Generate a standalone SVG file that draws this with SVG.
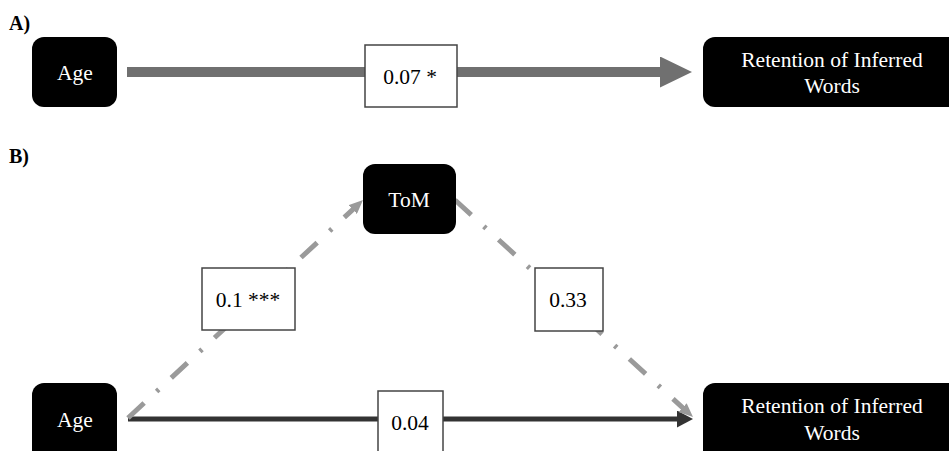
<svg xmlns="http://www.w3.org/2000/svg" width="949" height="451" viewBox="0 0 949 451">
<style>
text{font-family:'Liberation Serif','DejaVu Serif','Noto Serif',serif}
.node{fill:#000}
.ntext{fill:#fff;font-size:21.5px;text-anchor:middle}
.lbl{fill:#fff;stroke:#444;stroke-width:1.5}
.ltext{fill:#000;font-size:21.5px;text-anchor:middle}
.panel{fill:#000;font-size:20px;font-weight:bold}
.dash{fill:none;stroke:#9a9a9a;stroke-width:5;stroke-dasharray:22 17 3 17}
</style>
<defs>
<marker id="headA" markerUnits="userSpaceOnUse" markerWidth="32" markerHeight="31" refX="4" refY="15.5" orient="auto"><path d="M0,0 L32,15.5 L0,31 z" fill="#707070"/></marker>
<marker id="headDark" markerUnits="userSpaceOnUse" markerWidth="16" markerHeight="17" refX="2" refY="8.5" orient="auto"><path d="M0,0 L16,8.5 L0,17 z" fill="#333"/></marker>
<marker id="headGray" markerUnits="userSpaceOnUse" markerWidth="14" markerHeight="12" refX="4" refY="6" orient="auto"><path d="M0,0 L14,6 L0,12 z" fill="#9a9a9a"/></marker>
</defs>
<rect width="949" height="451" fill="#fff"/>
<text class="panel" x="9" y="30">A)</text>
<text class="panel" x="9" y="163">B)</text>
<g id="connectors">
<line x1="127" y1="72" x2="664" y2="72" stroke="#707070" stroke-width="10" marker-end="url(#headA)"/>
<line x1="128" y1="419" x2="679" y2="419" stroke="#333" stroke-width="5" marker-end="url(#headDark)"/>
<line class="dash" x1="128" y1="418" x2="355.7" y2="206.8" marker-end="url(#headGray)"/>
<line class="dash" x1="455" y1="200" x2="685.6" y2="410.3" marker-end="url(#headGray)"/>
</g>
<g id="label-a"><rect class="lbl" x="365" y="45" width="92" height="62"/><text class="ltext" x="410" y="84">0.07 *</text></g>
<g id="label-b1"><rect class="lbl" x="202" y="268" width="93" height="62"/><text class="ltext" x="248" y="307">0.1 ***</text></g>
<g id="label-b2"><rect class="lbl" x="535" y="268" width="68" height="63"/><text class="ltext" x="568" y="307">0.33</text></g>
<g id="label-b3"><rect class="lbl" x="378" y="391" width="65" height="70"/><text class="ltext" x="410" y="430">0.04</text></g>
<g id="age-a"><rect class="node" x="32" y="37" width="85" height="70" rx="12"/><text class="ntext" x="75" y="80">Age</text></g>
<g id="retention-a"><rect class="node" x="703" y="37" width="258" height="70" rx="12"/><text class="ntext" x="832" y="67">Retention of Inferred</text><text class="ntext" x="832" y="93">Words</text></g>
<g id="tom"><rect class="node" x="363" y="164" width="93" height="70" rx="12"/><text class="ntext" x="409" y="207">ToM</text></g>
<g id="age-b"><rect class="node" x="32" y="383" width="85" height="80" rx="12"/><text class="ntext" x="75" y="427">Age</text></g>
<g id="retention-b"><rect class="node" x="703" y="383" width="258" height="80" rx="12"/><text class="ntext" x="832" y="413">Retention of Inferred</text><text class="ntext" x="832" y="440">Words</text></g>
</svg>
